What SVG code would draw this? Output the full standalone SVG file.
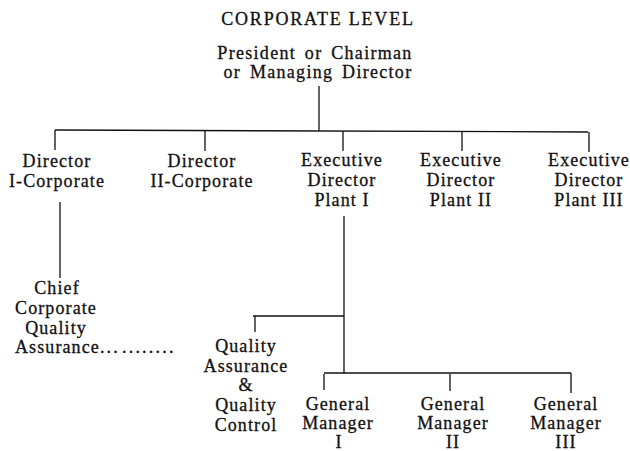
<svg xmlns="http://www.w3.org/2000/svg" width="630" height="451" viewBox="0 0 630 451">
  <style>
    text { font-family: "Liberation Serif", "Times New Roman", serif; font-size: 18px; fill: #111; stroke: #111; stroke-width: 0.3; text-anchor: middle; letter-spacing: 1.1px; }
    .title { letter-spacing: 1.8px; }
    .top { letter-spacing: 1.3px; word-spacing: 3px; }
    .left { text-anchor: start; }
    .dots { letter-spacing: 2.2px; }
    .wire { stroke: #111; stroke-width: 1.3; fill: none; }
  </style>
  <rect width="630" height="451" fill="#fff"/>

  <text class="title" x="318" y="25">CORPORATE LEVEL</text>

  <g id="president">
    <text class="top" x="315" y="59">President or Chairman</text>
    <text class="top" x="318" y="78">or Managing Director</text>
  </g>

  <g id="connectors" class="wire">
    <path d="M319 86V131"/>
    <path d="M55 130L588 132"/>
    <path d="M55 130V150M205 131V151M343 131V151M462 132V151M589 132V152"/>
    <path d="M60 202V278"/>
    <path d="M344 216V373"/>
    <path d="M253 316H344M255 316V332"/>
    <path d="M324 373H571"/>
    <path d="M324 374V390M450 374V391M571 373V393"/>
  </g>

  <g id="director-1">
    <text x="57" y="167">Director</text>
    <text x="57" y="187">I-Corporate</text>
  </g>
  <g id="director-2">
    <text x="202" y="167">Director</text>
    <text x="202" y="187">II-Corporate</text>
  </g>
  <g id="exec-plant-1">
    <text x="342" y="166">Executive</text>
    <text x="342" y="186">Director</text>
    <text x="342" y="206">Plant I</text>
  </g>
  <g id="exec-plant-2">
    <text x="461" y="166">Executive</text>
    <text x="461" y="186">Director</text>
    <text x="461" y="206">Plant II</text>
  </g>
  <g id="exec-plant-3">
    <text x="589" y="166">Executive</text>
    <text x="589" y="186">Director</text>
    <text x="589" y="206">Plant III</text>
  </g>

  <g id="chief-cqa">
    <text x="57" y="294">Chief</text>
    <text x="56" y="314">Corporate</text>
    <text x="56" y="334">Quality</text>
    <text class="left" x="15" y="353">Assurance<tspan class="dots">...</tspan><tspan class="dots" dx="2">........</tspan></text>
  </g>

  <g id="qa-qc">
    <text x="246" y="352">Quality</text>
    <text x="246" y="372">Assurance</text>
    <text x="246" y="391">&amp;</text>
    <text x="246" y="411">Quality</text>
    <text x="246" y="431">Control</text>
  </g>

  <g id="gm-1">
    <text x="338" y="410">General</text>
    <text x="338" y="429">Manager</text>
    <text x="339" y="448">I</text>
  </g>
  <g id="gm-2">
    <text x="453" y="410">General</text>
    <text x="453" y="429">Manager</text>
    <text x="453" y="448">II</text>
  </g>
  <g id="gm-3">
    <text x="566" y="410">General</text>
    <text x="566" y="429">Manager</text>
    <text x="566" y="448">III</text>
  </g>
</svg>
